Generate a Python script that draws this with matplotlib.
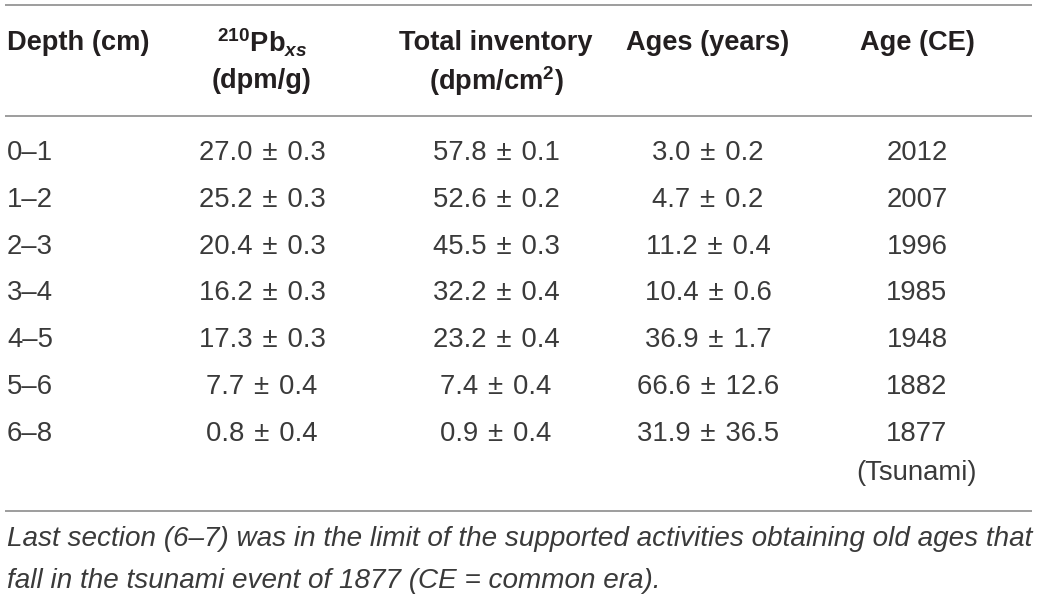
import matplotlib
matplotlib.use("Agg")
import matplotlib.pyplot as plt

plt.rcParams['font.family'] = ['Liberation Sans', 'DejaVu Sans']
plt.rcParams['mathtext.fontset'] = 'custom'
plt.rcParams['mathtext.rm'] = 'Liberation Sans:bold'
plt.rcParams['mathtext.it'] = 'Liberation Sans:bold:italic'
plt.rcParams['mathtext.bf'] = 'Liberation Sans:bold'

# table data
depths = ['0–1', '1–2', '2–3', '3–4', '4–5', '5–6', '6–8']
pb_xs = [27.0, 25.2, 20.4, 16.2, 17.3, 7.7, 0.8]
pb_xs_err = [0.3, 0.3, 0.3, 0.3, 0.3, 0.4, 0.4]
inventory = [57.8, 52.6, 45.5, 32.2, 23.2, 7.4, 0.9]
inventory_err = [0.1, 0.2, 0.3, 0.4, 0.4, 0.4, 0.4]
ages = [3.0, 4.7, 11.2, 10.4, 36.9, 66.6, 31.9]
ages_err = [0.2, 0.2, 0.4, 0.6, 1.7, 12.6, 36.5]
age_ce = ['2012', '2007', '1996', '1985', '1948', '1882', '1877']
age_note = ['', '', '', '', '', '', '(Tsunami)']

headers = [
    ('Depth (cm)', ''),
    (r'$\mathrm{^{210}Pb}_{xs}$', '(dpm/g)'),
    ('Total inventory', r'(dpm/cm$\mathrm{^{2}}$)'),
    ('Ages (years)', ''),
    ('Age (CE)', ''),
]
footnote = ['Last section (6–7) was in the limit of the supported activities obtaining old ages that',
            'fall in the tsunami event of 1877 (CE = common era).']

W, H = 1039, 597
fig = plt.figure(figsize=(W / 100, H / 100), dpi=100)
ax = fig.add_axes([0, 0, 1, 1])
ax.set_xlim(0, W)
ax.set_ylim(H, 0)
ax.axis('off')

fs_head = 19.6
fs = 19.8
head_col = '#231f20'
body_col = '#3a3a3a'
line_col = '#8c8c8c'
pm = ' \u200a±\u200a '


def fmt(v, e):
    return f'{v:.1f}{pm}{e:.1f}'


col_x = [7, 262, 496, 708, 917]
for i, (h1, h2) in enumerate(headers):
    ha = 'left' if i == 0 else 'center'
    ax.text(col_x[i], 43, h1, ha=ha, va='center', fontsize=fs_head, fontweight='bold', color=head_col)
    if h2:
        ax.text(col_x[i], 81, h2, ha=ha, va='center', fontsize=fs_head, fontweight='bold', color=head_col)

row_y0, row_dy = 153, 46.8
for r in range(len(depths)):
    y = row_y0 + r * row_dy
    ax.text(col_x[0], y, depths[r], ha='left', va='center', fontsize=fs, color=body_col)
    ax.text(col_x[1], y, fmt(pb_xs[r], pb_xs_err[r]), ha='center', va='center', fontsize=fs, color=body_col)
    ax.text(col_x[2], y, fmt(inventory[r], inventory_err[r]), ha='center', va='center', fontsize=fs, color=body_col)
    ax.text(col_x[3], y, fmt(ages[r], ages_err[r]), ha='center', va='center', fontsize=fs, color=body_col)
    ax.text(col_x[4], y, age_ce[r], ha='center', va='center', fontsize=fs, color=body_col)
    if age_note[r]:
        ax.text(col_x[4], y + 39, age_note[r], ha='center', va='center', fontsize=fs, color=body_col)

for y in (5, 116, 511):
    ax.plot([5, 1032], [y, y], color=line_col, lw=1.2, solid_capstyle='butt')

# footnote: fit the first line to the table width
renderer = fig.canvas.get_renderer()
foot = []
for k, line in enumerate(footnote):
    foot.append(ax.text(7, 539 + k * 42, line, ha='left', va='center', fontsize=20,
                        style='italic', color=body_col))
w = foot[0].get_window_extent(renderer).width
for t in foot:
    t.set_fontsize(20 * 1024 / w)

fig.savefig('out.png', dpi=100)
